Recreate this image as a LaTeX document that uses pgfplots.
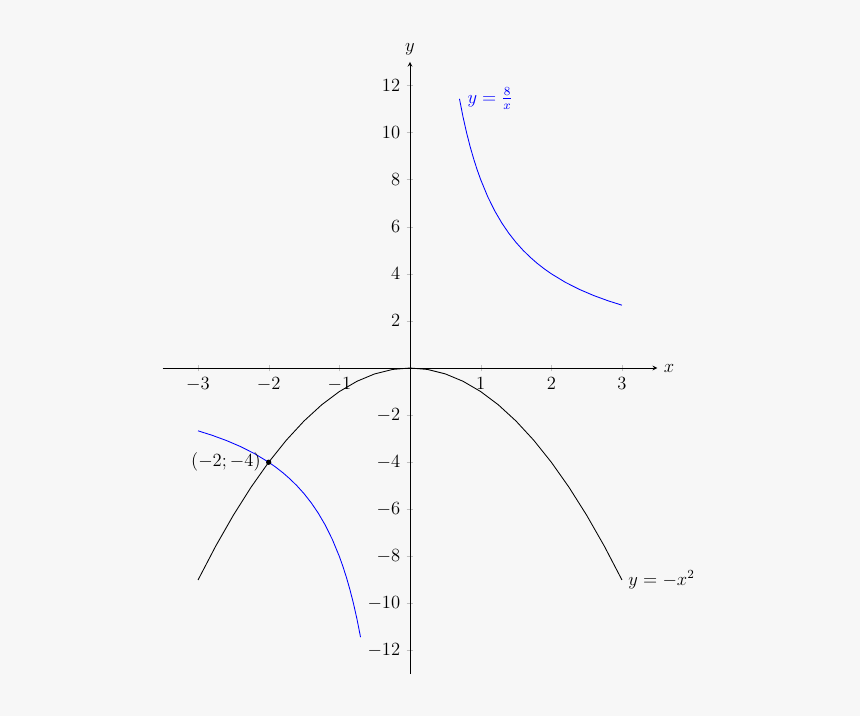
\documentclass[12pt,border=0pt]{standalone}
\usepackage{pgfplots}
\pgfplotsset{compat=1.18}
\definecolor{bg}{RGB}{247,247,247}

\begin{document}
\begin{tikzpicture}
  % background: 860x716 px at 0.6453 pt/px, origin of the axis at px (410,368)
  \fill[bg] (-264.6pt,-224.6pt) rectangle (290.4pt,237.5pt);
  \begin{axis}[
      anchor=origin,
      at={(0pt,0pt)},
      x=45.6pt, y=15.2pt,
      axis lines=middle,
      axis line style={-stealth},
      xmin=-3.5, xmax=3.5,
      ymin=-13, ymax=13,
      xtick={-3,-2,-1,1,2,3},
      ytick={-12,-10,-8,-6,-4,-2,2,4,6,8,10,12},
      tick style={black!25},
      xlabel={$x$}, ylabel={$y$},
      xlabel style={at={(ticklabel* cs:1)}, anchor=west},
      ylabel style={at={(ticklabel* cs:1)}, anchor=south},
      every axis plot/.append style={line width=0.55pt},
      clip=false,
    ]
    % y = 8/x, x > 0
    \addplot[blue] coordinates {
      (0.7,11.4286)(0.75,10.6667)(0.8,10)(0.85,9.4118)(0.9,8.8889)(0.95,8.4211)
      (1.0,8)(1.1,7.2727)(1.2,6.6667)(1.3,6.1538)(1.4,5.7143)(1.5,5.3333)
      (1.6,5)(1.7,4.7059)(1.8,4.4444)(1.9,4.2105)(2.0,4)(2.2,3.6364)
      (2.4,3.3333)(2.6,3.0769)(2.8,2.8571)(3.0,2.6667)
    };
    % y = 8/x, x < 0
    \addplot[blue] coordinates {
      (-3.0,-2.6667)(-2.8,-2.8571)(-2.6,-3.0769)(-2.4,-3.3333)(-2.2,-3.6364)
      (-2.0,-4)(-1.9,-4.2105)(-1.8,-4.4444)(-1.7,-4.7059)(-1.6,-5)(-1.5,-5.3333)
      (-1.4,-5.7143)(-1.3,-6.1538)(-1.2,-6.6667)(-1.1,-7.2727)(-1.0,-8)
      (-0.95,-8.4211)(-0.9,-8.8889)(-0.85,-9.4118)(-0.8,-10)(-0.75,-10.6667)(-0.7,-11.4286)
    };
    % y = -x^2
    \addplot[black] coordinates {
      (-3,-9)(-2.75,-7.5625)(-2.5,-6.25)(-2.25,-5.0625)(-2,-4)(-1.75,-3.0625)
      (-1.5,-2.25)(-1.25,-1.5625)(-1,-1)(-0.75,-0.5625)(-0.5,-0.25)(-0.25,-0.0625)
      (0,0)(0.25,-0.0625)(0.5,-0.25)(0.75,-0.5625)(1,-1)(1.25,-1.5625)(1.5,-2.25)
      (1.75,-3.0625)(2,-4)(2.25,-5.0625)(2.5,-6.25)(2.75,-7.5625)(3,-9)
    };
    % intersection point
    \addplot[black, only marks, mark=*, mark size=1.4pt] coordinates {(-2,-4)};
    \node[anchor=east, inner sep=5pt] at (axis cs:-2,-4) {$(-2;-4)$};
    \node[anchor=west, blue, inner sep=5pt] at (axis cs:0.7,11.4286) {$y=\frac{8}{x}$};
    \node[anchor=west, inner sep=4pt] at (axis cs:3,-9) {$y=-x^2$};
  \end{axis}
\end{tikzpicture}
\end{document}
